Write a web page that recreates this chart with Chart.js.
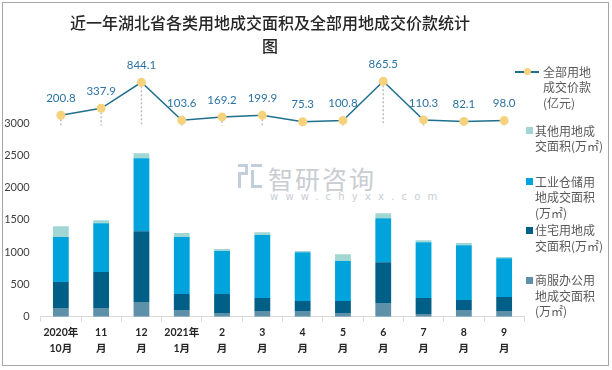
<!DOCTYPE html>
<html>
<head>
<meta charset="utf-8">
<script src="https://cdn.jsdelivr.net/npm/chart.js@4.4.1/dist/chart.umd.min.js"></script>
<style>
  html, body { margin:0; padding:0; background:#fff; }
  #wrap { position:relative; width:612px; height:370px; overflow:hidden; background:#fff; }
  #frame { position:absolute; left:2px; top:2px; width:605px; height:362px; border:1px solid #a6a6a6; pointer-events:none; }
  #title { position:absolute; left:0; top:11px; width:540px; text-align:center; font-family:"Noto Sans CJK SC", sans-serif; font-size:16px; line-height:23px; color:#262626; font-weight:500; }
  canvas { position:absolute; left:0; top:0; }
  .wm1 { position:absolute; left:268px; top:160px; font-family:"Noto Sans CJK SC", sans-serif; font-size:25px; color:#c9cdd2; letter-spacing:2px; }
  .wm2 { position:absolute; left:270px; top:191px; font-family:"DejaVu Sans", sans-serif; font-size:10px; color:#c9cdd2; letter-spacing:7.2px; }
  .wmicon { position:absolute; left:238px; top:164px; width:24px; height:24px; }
  .wmicon div { position:absolute; background:#c3cedd; }
  .leg { position:absolute; font-family:"Noto Sans CJK SC", sans-serif; font-size:12px; line-height:15.5px; color:#595959; white-space:nowrap; }
  .sq { position:absolute; width:7px; height:7px; }
</style>
</head>
<body>
<div id="wrap">
  <div class="wmicon">
    <div style="left:0;top:0;width:10px;height:3px"></div>
    <div style="left:7px;top:0;width:3px;height:11px"></div>
    <div style="left:0;top:8px;width:10px;height:3px"></div>
    <div style="left:0;top:8px;width:3px;height:16px"></div>
    <div style="left:13px;top:0;width:11px;height:3px"></div>
    <div style="left:13px;top:6px;width:3px;height:18px"></div>
    <div style="left:13px;top:21px;width:11px;height:3px"></div>
  </div>
  <div class="wm1">智研咨询</div>
  <div class="wm2">www.chyxx.com</div>
  <canvas id="c" width="612" height="370"></canvas>
  <div id="title">近一年湖北省各类用地成交面积及全部用地成交价款统计<br>图</div>
  <div id="legend"></div>
  <div id="frame"></div>
</div>
<script>
const categories = [["2020年","10月"],["11","月"],["12","月"],["2021年","1月"],["2","月"],["3","月"],["4","月"],["5","月"],["6","月"],["7","月"],["8","月"],["9","月"]];
const commercialArea  = [135, 135, 227, 104, 57, 88, 88, 57, 212, 42, 104, 88];
const residentialArea = [402, 557, 1099, 247, 294, 201, 155, 186, 634, 247, 154, 217];
const industrialArea  = [697, 758, 1130, 883, 666, 976, 758, 619, 681, 867, 851, 603];
const otherArea       = [170, 46, 77, 62, 31, 46, 16, 108, 78, 31, 32, 16];
const totalPrice      = [200.8, 337.9, 844.1, 103.6, 169.2, 199.9, 75.3, 100.8, 865.5, 110.3, 82.1, 98.0];
const yTicks = [0, 500, 1000, 1500, 2000, 2500, 3000];

const seriesNames = {
  price: ["全部用地","成交价款","(亿元)"],
  other: ["其他用地成","交面积(万㎡)"],
  industrial: ["工业仓储用","地成交面积","(万㎡)"],
  residential: ["住宅用地成","交面积(万㎡)"],
  commercial: ["商服办公用","地成交面积","(万㎡)"]
};
const colors = {
  commercial: "#5f90a9",
  residential: "#005f86",
  industrial: "#00a3dc",
  other: "#a1d6d3",
  line: "#1f6f8f",
  marker: "#f6d27c",
  label: "#2b73a3"
};

// HTML legend
(function(){
  const lg = document.getElementById('legend');
  const items = [
    {key:'price', y:71.7, type:'line'},
    {key:'other', y:130.7},
    {key:'industrial', y:181.7},
    {key:'residential', y:230},
    {key:'commercial', y:280}
  ];
  items.forEach(it => {
    if (it.type === 'line') {
      const ln = document.createElement('div');
      ln.style.cssText = `position:absolute;left:515px;top:${it.y-0.5}px;width:24px;height:1.5px;background:${colors.line}`;
      lg.appendChild(ln);
      const dot = document.createElement('div');
      dot.style.cssText = `position:absolute;left:523.5px;top:${it.y-3.3}px;width:7px;height:7px;border-radius:50%;background:${colors.marker}`;
      lg.appendChild(dot);
      const t = document.createElement('div');
      t.className = 'leg';
      t.style.left = '543px'; t.style.top = (it.y-7.75)+'px';
      t.innerHTML = seriesNames[it.key].join('<br>');
      lg.appendChild(t);
    } else {
      const s = document.createElement('div');
      s.className = 'sq';
      s.style.left = '526px'; s.style.top = (it.y-3.5)+'px';
      s.style.background = colors[it.key];
      lg.appendChild(s);
      const t = document.createElement('div');
      t.className = 'leg';
      t.style.left = '535px'; t.style.top = (it.y-7.75)+'px';
      t.innerHTML = seriesNames[it.key].join('<br>');
      lg.appendChild(t);
    }
  });
})();

const overlay = {
  id: 'overlay',
  beforeDatasetsDraw(chart) {
    const idx = chart.data.datasets.findIndex(d => d.type === 'line');
    const meta = chart.getDatasetMeta(idx);
    const y0 = chart.scales.y1.getPixelForValue(0);
    const ctx = chart.ctx;
    ctx.save();
    ctx.strokeStyle = '#bdbdbd';
    ctx.lineWidth = 1.5;
    ctx.setLineDash([2, 2]);
    meta.data.forEach(pt => {
      ctx.beginPath();
      ctx.moveTo(pt.x, pt.y);
      ctx.lineTo(pt.x, y0);
      ctx.stroke();
    });
    ctx.restore();
  },
  afterDatasetsDraw(chart) {
    const idx = chart.data.datasets.findIndex(d => d.type === 'line');
    const meta = chart.getDatasetMeta(idx);
    const ctx = chart.ctx;
    ctx.save();
    ctx.fillStyle = colors.label;
    ctx.font = '11.5px Lato, "Liberation Sans", sans-serif';
    ctx.textAlign = 'center';
    ctx.textBaseline = 'middle';
    meta.data.forEach((pt, i) => {
      ctx.fillText(totalPrice[i].toFixed(1), pt.x, pt.y - 17);
    });
    ctx.restore();
  }
};

new Chart(document.getElementById('c'), {
  data: {
    labels: categories,
    datasets: [
      { type:'line', label:'全部用地成交价款(亿元)', data: totalPrice, yAxisID:'y1', order:0,
        borderColor: colors.line, borderWidth:1.5, pointRadius:4.5, pointHoverRadius:4.5,
        pointBackgroundColor: colors.marker, pointBorderWidth:0, tension:0, fill:false },
      { type:'bar', label:'商服办公用地成交面积(万㎡)', data: commercialArea, backgroundColor: colors.commercial, yAxisID:'y', order:1, stack:'s' },
      { type:'bar', label:'住宅用地成交面积(万㎡)', data: residentialArea, backgroundColor: colors.residential, yAxisID:'y', order:1, stack:'s' },
      { type:'bar', label:'工业仓储用地成交面积(万㎡)', data: industrialArea, backgroundColor: colors.industrial, yAxisID:'y', order:1, stack:'s' },
      { type:'bar', label:'其他用地成交面积(万㎡)', data: otherArea, backgroundColor: colors.other, yAxisID:'y', order:1, stack:'s' }
    ]
  },
  options: {
    responsive:false,
    animation:false,
    devicePixelRatio:1,
    layout: { padding: { left:0, right:87.7, top:58.7, bottom:0 } },
    datasets: { bar: { categoryPercentage:0.8, barPercentage:0.49 } },
    plugins: { legend:{display:false}, title:{display:false}, tooltip:{enabled:false} },
    scales: {
      x: {
        stacked:true,
        offset:true,
        grid: { display:true, drawOnChartArea:false, drawTicks:true, tickLength:5, color:'#d9d9d9', offset:true },
        border: { display:true, color:'#d9d9d9', width:1 },
        ticks: { color:'#262626', font:{ family:'Lato, "Noto Sans CJK SC", sans-serif', size:10.5, weight:'bold', lineHeight:1.5 }, padding:3, maxRotation:0, autoSkip:false },
        afterFit(s){ s.height = 53.3; }
      },
      y: {
        stacked:true,
        min:0, max:4000,
        grid: { display:false, drawTicks:false },
        border: { display:false },
        ticks: { stepSize:500, padding:11, color:'#404040', font:{ family:'Lato, "Liberation Sans", sans-serif', size:11 },
                 callback: v => String(v) },
        afterBuildTicks(s){ s.ticks = yTicks.map(v => ({value:v})); },
        afterFit(s){ s.width = 40.7; }
      },
      y1: {
        display:false,
        stacked:false,
        min:-3729, max:1305,
        grid:{display:false}
      }
    }
  },
  plugins:[overlay]
});
</script>
</body>
</html>
